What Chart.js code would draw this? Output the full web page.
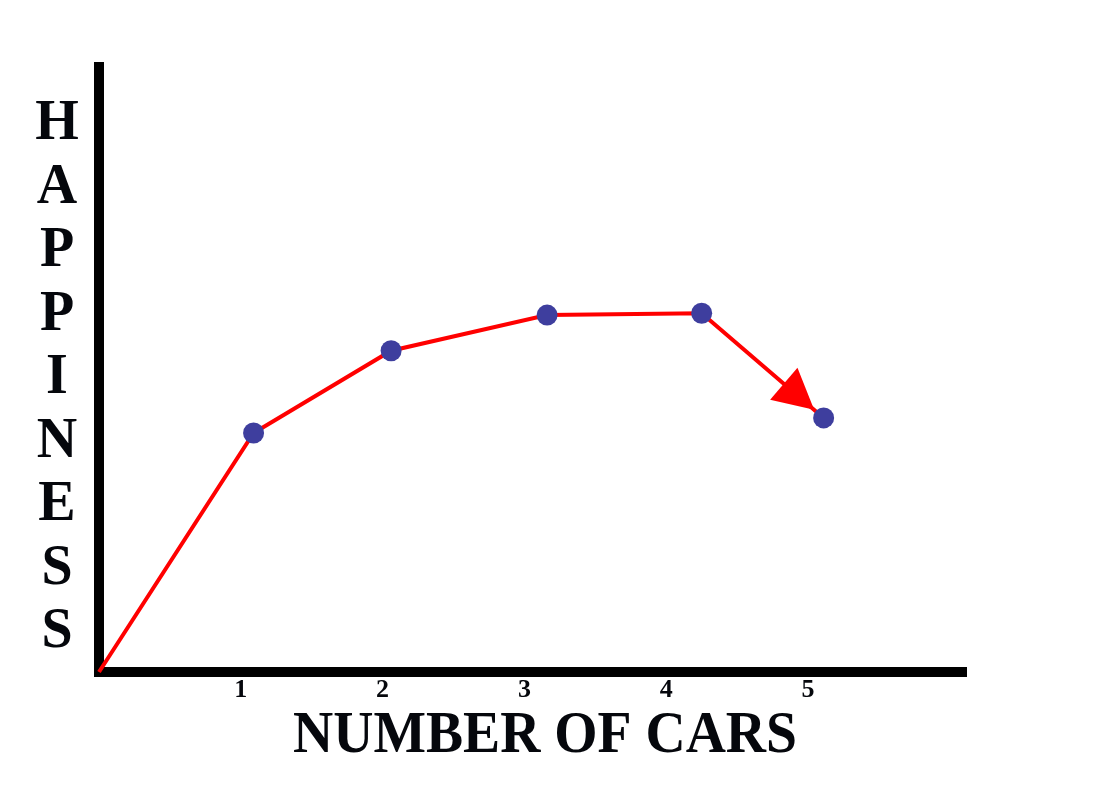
<!DOCTYPE html>
<html>
<head>
<meta charset="utf-8">
<script src="https://cdn.jsdelivr.net/npm/chart.js@4"></script>
<style>
  html, body { margin: 0; padding: 0; background: #fff; }
  #wrap { width: 1107px; height: 791px; }
</style>
</head>
<body>
<div id="wrap"><canvas id="graph" width="1107" height="791"></canvas></div>
<script>
// data (x = number of cars, y = happiness)
const carsX = [0, 1.09, 2.06, 3.16, 4.25, 5.11];
const happinessY = [0, 3.95, 5.31, 5.9, 5.93, 4.2];
const xTicks = [1, 2, 3, 4, 5];
const xTitle = 'NUMBER OF CARS';
const yTitle = 'HAPPINESS';

const points = carsX.map((x, i) => ({x: x, y: happinessY[i]}));

// stacked letters for the y title, compressed title under the x axis
const titles = {
  id: 'titles',
  afterDraw(chart) {
    const ctx = chart.ctx;
    ctx.save();
    ctx.fillStyle = '#05070c';
    ctx.textAlign = 'center';
    ctx.textBaseline = 'alphabetic';
    ctx.font = 'bold 56px "Liberation Serif"';
    yTitle.split('').forEach((ch, i) => {
      ctx.fillText(ch, 57, 139 + i * 63.5);
    });
    ctx.font = 'bold 60px "Liberation Serif"';
    const w = ctx.measureText(xTitle).width;
    const sx = 504 / w;
    ctx.translate(545, 752);
    ctx.scale(sx, 1);
    ctx.fillText(xTitle, 0, 0);
    ctx.restore();
  }
};

// arrow head on the last segment
const arrowHead = {
  id: 'arrowHead',
  afterDatasetsDraw(chart) {
    const meta = chart.getDatasetMeta(0).data;
    const a = meta[meta.length - 2], b = meta[meta.length - 1];
    const dx = b.x - a.x, dy = b.y - a.y;
    const len = Math.sqrt(dx * dx + dy * dy);
    const ux = dx / len, uy = dy / len;
    const tipX = b.x - ux * 12.5, tipY = b.y - uy * 12.5;
    const baseX = tipX - ux * 40, baseY = tipY - uy * 40;
    const ctx = chart.ctx;
    ctx.save();
    ctx.fillStyle = '#ff0000';
    ctx.beginPath();
    ctx.moveTo(tipX, tipY);
    ctx.lineTo(baseX - uy * 21, baseY + ux * 21);
    ctx.lineTo(baseX + uy * 21, baseY - ux * 21);
    ctx.closePath();
    ctx.fill();
    ctx.restore();
  }
};

new Chart(document.getElementById('graph'), {
  type: 'line',
  data: {
    datasets: [{
      data: points,
      borderColor: '#ff0000',
      borderWidth: 4,
      tension: 0,
      pointRadius: [0, 10.5, 10.5, 10.5, 10.5, 10.5],
      pointBackgroundColor: '#3e3e9e',
      pointBorderWidth: 0,
      clip: false
    }]
  },
  options: {
    responsive: false,
    animation: false,
    events: [],
    layout: { padding: { top: 67, right: 141, left: 0, bottom: 0 } },
    plugins: { legend: { display: false }, tooltip: { enabled: false } },
    scales: {
      x: {
        type: 'linear',
        min: 0,
        max: 6.114,
        grid: { display: false, drawTicks: false },
        border: { display: true, width: 10, color: '#000' },
        afterBuildTicks: s => { s.ticks = xTicks.map(v => ({value: v})); },
        afterFit: s => { s.height = 119; },
        ticks: {
          padding: 3,
          color: '#05070c',
          font: { family: '"Liberation Serif"', size: 26, weight: 'bold' }
        }
      },
      y: {
        type: 'linear',
        min: 0,
        max: 10,
        grid: { display: false, drawTicks: false },
        border: { display: true, width: 10, color: '#000' },
        ticks: { display: false },
        afterFit: s => { s.width = 99; }
      }
    }
  },
  plugins: [titles, arrowHead]
});
</script>
</body>
</html>
